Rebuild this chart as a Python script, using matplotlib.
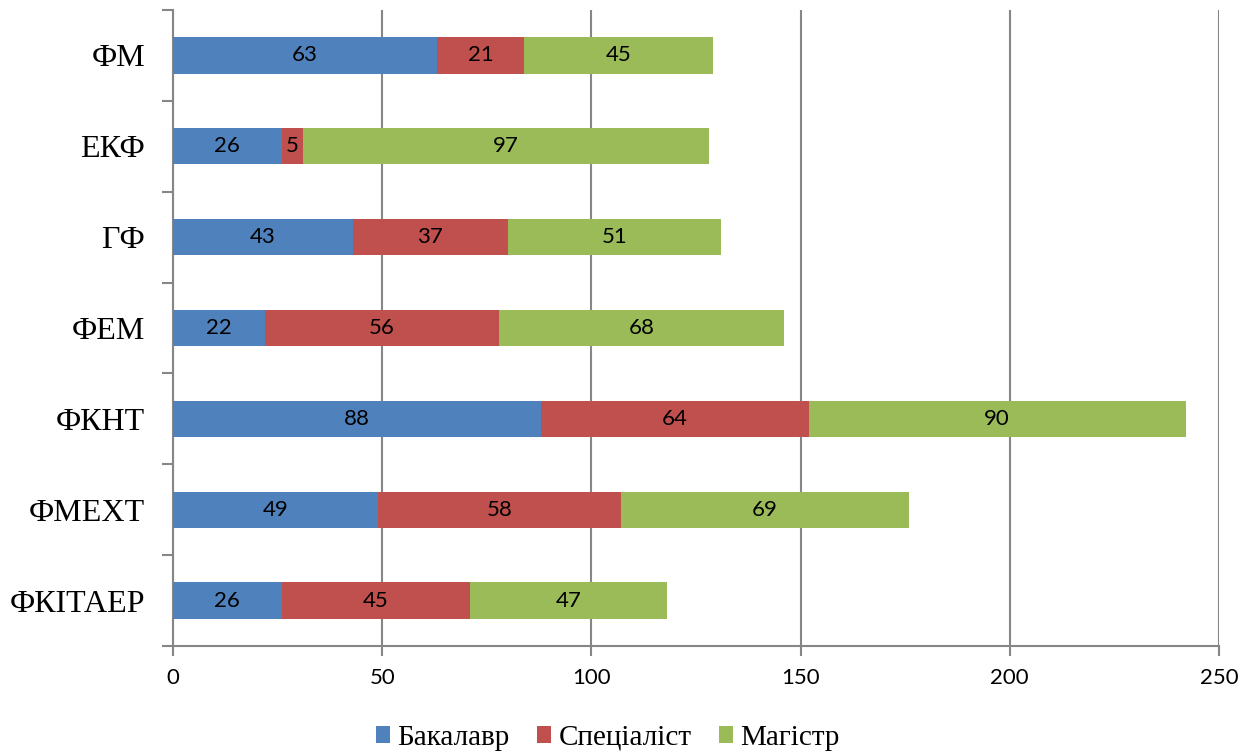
import numpy as np
import matplotlib.pyplot as plt
from matplotlib.patches import Patch
from matplotlib.ticker import FixedLocator

# Data (bottom to top as drawn)
faculties = ['ФКІТАЕР', 'ФМЕХТ', 'ФКНТ', 'ФЕМ', 'ГФ', 'ЕКФ', 'ФМ']
bachelor = [26, 49, 88, 22, 43, 26, 63]
specialist = [45, 58, 64, 56, 37, 5, 21]
master = [47, 69, 90, 68, 51, 97, 45]
series_names = ['Бакалавр', 'Спеціаліст', 'Магістр']
colors = ['#4F81BD', '#C0504D', '#9BBB59']

fig = plt.figure(figsize=(12.56, 7.56), dpi=100)
ax = fig.add_axes([173 / 1256, 1 - 646 / 756, (1219 - 173) / 1256, (646 - 10) / 756])

y = np.arange(len(faculties))
left = np.zeros(len(faculties))
for vals, name, col in zip([bachelor, specialist, master], series_names, colors):
    vals = np.array(vals)
    bars = ax.barh(y, vals, left=left, height=0.4, color=col, label=name, zorder=3)
    for b, v in zip(bars, vals):
        ax.text(b.get_x() + b.get_width() / 2, b.get_y() + b.get_height() / 2, str(v),
                ha='center', va='center', fontsize=16, family='Lato', color='black', zorder=4)
    left += vals

ax.set_xlim(0, 250)
ax.set_ylim(-0.5, len(faculties) - 0.5)
ax.set_xticks(np.arange(0, 251, 50))
ax.set_yticks(y)
ax.set_yticklabels(faculties, family='Liberation Serif', fontsize=23)
ax.yaxis.set_minor_locator(FixedLocator(np.arange(-0.5, len(faculties), 1.0)))

grid_col = '#868686'
ax.grid(axis='x', color=grid_col, linewidth=1.5, zorder=0)
ax.tick_params(axis='y', which='major', length=0, pad=20)
ax.tick_params(axis='y', which='minor', length=8, width=1.5, color=grid_col)
ax.tick_params(axis='x', length=7, width=1.5, color=grid_col, labelsize=16, pad=9)
for lbl in ax.get_xticklabels():
    lbl.set_family('Lato')

for s in ['top', 'right']:
    ax.spines[s].set_visible(False)
for s in ['left', 'bottom']:
    ax.spines[s].set_color(grid_col)
    ax.spines[s].set_linewidth(1.5)

handles = [Patch(facecolor=c, edgecolor='none') for c in colors]
fig.legend(handles, series_names, loc='center left', bbox_to_anchor=(376 / 1256, 0.024), ncol=3,
           frameon=False, prop={'family': 'Liberation Serif', 'size': 21},
           handlelength=0.48, handleheight=0.48, handletextpad=0.25, columnspacing=0.95,
           borderpad=0, borderaxespad=0)

fig.savefig('out.png', dpi=100)
